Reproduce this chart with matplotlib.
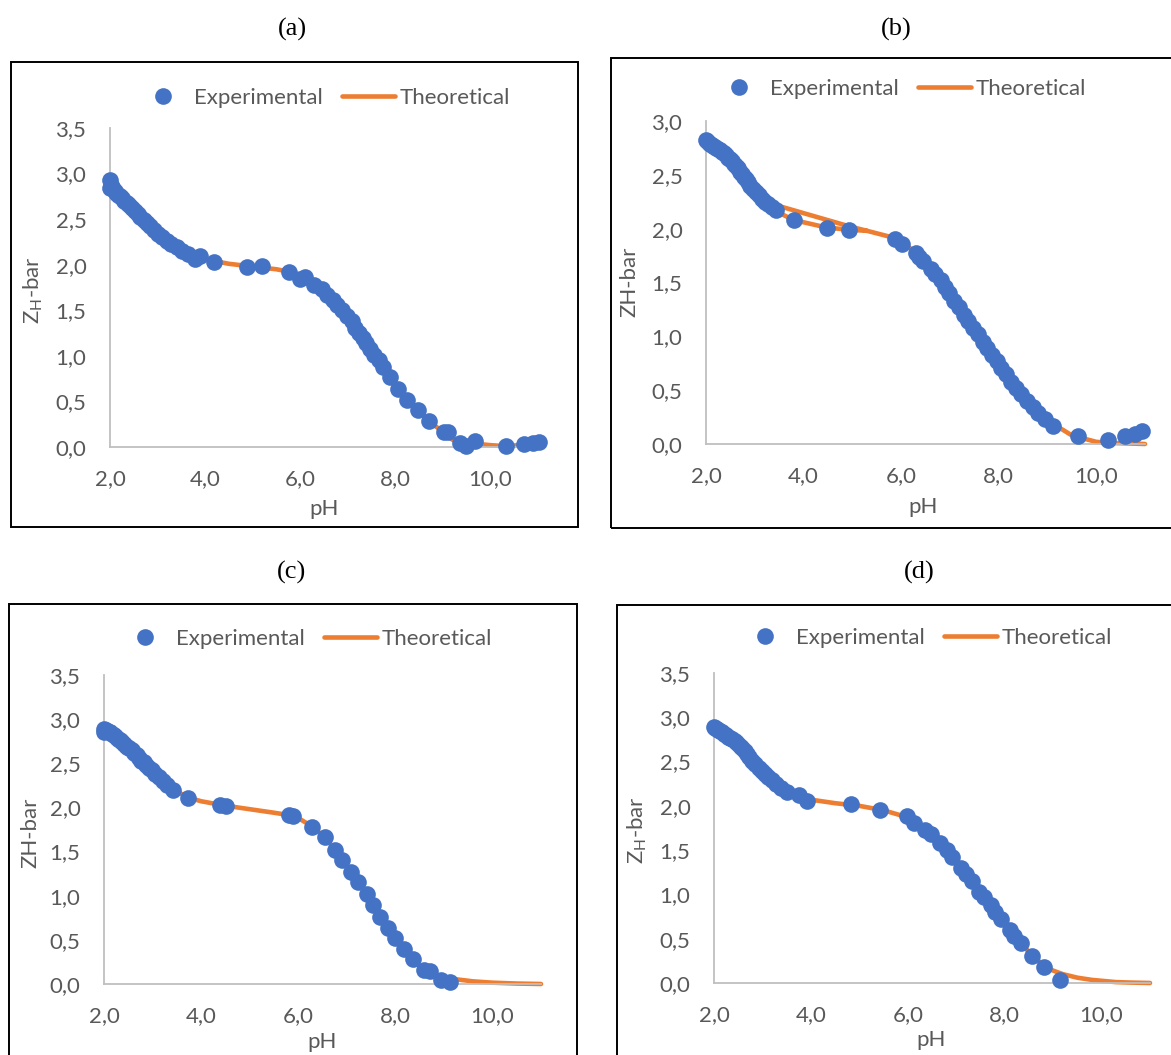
import numpy as np
import matplotlib.pyplot as plt
from matplotlib.patches import Rectangle
from matplotlib.ticker import FuncFormatter

plt.rcParams['font.family'] = ['Lato', 'DejaVu Sans']

# ---- panel (a) ----
ph_exp_a = [2.00, 2.00, 2.02, 2.04, 2.07, 2.10, 2.13, 2.17, 2.21, 2.25, 2.30, 2.35,
            2.40, 2.46, 2.52, 2.58, 2.64, 2.71, 2.78, 2.85, 2.93, 3.01, 3.10, 3.19,
            3.29, 3.40, 3.52, 3.65, 3.79, 3.90, 4.18, 4.88, 5.19, 5.77, 6.00, 6.09,
            6.29, 6.45, 6.56, 6.68, 6.78, 6.88, 6.98, 7.08, 7.16, 7.24, 7.32, 7.39,
            7.47, 7.55, 7.65, 7.74, 7.89, 8.05, 8.24, 8.48, 8.71, 9.02, 9.10, 9.37,
            9.49, 9.67, 10.33, 10.70, 10.90, 11.02]
zh_exp_a = [2.93, 2.84, 2.88, 2.85, 2.83, 2.81, 2.79, 2.77, 2.75, 2.73, 2.70, 2.68,
            2.65, 2.62, 2.59, 2.56, 2.52, 2.49, 2.46, 2.42, 2.38, 2.34, 2.30, 2.26,
            2.23, 2.19, 2.15, 2.12, 2.06, 2.10, 2.03, 1.98, 1.99, 1.92, 1.84, 1.87,
            1.78, 1.73, 1.67, 1.61, 1.56, 1.50, 1.44, 1.38, 1.31, 1.25, 1.20, 1.14,
            1.08, 1.01, 0.95, 0.88, 0.77, 0.64, 0.52, 0.41, 0.28, 0.17, 0.17, 0.04,
            0.01, 0.07, 0.01, 0.03, 0.04, 0.06]
ph_theo_a = [2.0, 2.5, 3.0, 3.5, 4.0, 4.5, 5.0, 5.5, 5.8, 6.0, 6.3, 6.6, 7.0, 7.5,
             8.0, 8.5, 8.8, 9.0, 9.2, 9.4, 9.6, 9.8, 10.0, 10.3, 10.6, 11.0]
zh_theo_a = [2.88, 2.60, 2.36, 2.16, 2.06, 2.01, 1.98, 1.95, 1.92, 1.87, 1.78, 1.65,
             1.43, 1.05, 0.67, 0.39, 0.25, 0.16, 0.08, 0.05, 0.04, 0.03, 0.02, 0.01,
             0.02, 0.03]

# ---- panel (b) ----
ph_exp_b = [2.00, 2.03, 2.06, 2.09, 2.12, 2.15, 2.18, 2.21, 2.25, 2.29, 2.33, 2.37,
            2.41, 2.45, 2.49, 2.53, 2.57, 2.61, 2.65, 2.69, 2.73, 2.77, 2.81, 2.86,
            2.91, 2.96, 3.02, 3.08, 3.14, 3.21, 3.28, 3.35, 3.44, 3.80, 4.48, 4.94,
            5.87, 6.01, 6.30, 6.36, 6.45, 6.61, 6.70, 6.82, 6.90, 6.99, 7.08, 7.18,
            7.28, 7.38, 7.47, 7.57, 7.67, 7.77, 7.87, 7.96, 8.05, 8.15, 8.25, 8.35,
            8.46, 8.58, 8.70, 8.81, 8.95, 9.12, 9.62, 10.24, 10.59, 10.79, 10.94]
zh_exp_b = [2.82, 2.81, 2.80, 2.79, 2.78, 2.77, 2.76, 2.75, 2.74, 2.73, 2.71, 2.70,
            2.68, 2.66, 2.65, 2.63, 2.60, 2.58, 2.56, 2.53, 2.51, 2.48, 2.46, 2.43,
            2.40, 2.37, 2.34, 2.31, 2.28, 2.25, 2.23, 2.20, 2.17, 2.08, 2.01, 1.99,
            1.90, 1.86, 1.77, 1.74, 1.70, 1.63, 1.58, 1.52, 1.46, 1.40, 1.33, 1.27,
            1.20, 1.14, 1.08, 1.02, 0.95, 0.89, 0.83, 0.77, 0.71, 0.65, 0.58, 0.52,
            0.46, 0.40, 0.34, 0.29, 0.23, 0.17, 0.07, 0.04, 0.07, 0.09, 0.12]
# the fitted curve doubles back between pH 3.4 and 5.3 (nan splits the two runs)
ph_theo_b = [2.0, 2.5, 3.0, 3.2, 3.42, 4.95, 5.3, 5.9, 6.3, 6.6, 7.0, 7.5, 8.0,
             8.5, 9.0, 9.5, 10.0, 10.3, 11.0, np.nan, 3.44, 3.80, 4.48, 4.94, 5.3]
zh_theo_b = [2.83, 2.63, 2.35, 2.26, 2.22, 2.02, 1.98, 1.91, 1.78, 1.64, 1.40, 1.06,
             0.74, 0.45, 0.22, 0.08, 0.02, 0.01, 0.00, np.nan, 2.16, 2.08, 2.01,
             1.99, 1.98]

# ---- panel (c) ----
ph_exp_c = [2.00, 2.01, 2.04, 2.07, 2.10, 2.13, 2.16, 2.20, 2.24, 2.28, 2.32, 2.36,
            2.40, 2.44, 2.48, 2.52, 2.57, 2.62, 2.67, 2.72, 2.77, 2.82, 2.87, 2.93,
            2.99, 3.06, 3.13, 3.21, 3.30, 3.42, 3.73, 4.38, 4.51, 5.82, 5.90, 6.29,
            6.55, 6.75, 6.91, 7.08, 7.24, 7.41, 7.54, 7.69, 7.85, 8.00, 8.17, 8.36,
            8.59, 8.71, 8.94, 9.13]
zh_exp_c = [2.86, 2.89, 2.88, 2.87, 2.86, 2.85, 2.83, 2.82, 2.80, 2.78, 2.76, 2.75,
            2.73, 2.71, 2.69, 2.67, 2.65, 2.62, 2.59, 2.56, 2.53, 2.51, 2.48, 2.45,
            2.42, 2.38, 2.34, 2.30, 2.25, 2.20, 2.11, 2.03, 2.02, 1.91, 1.90, 1.78,
            1.66, 1.52, 1.40, 1.27, 1.15, 1.02, 0.89, 0.76, 0.63, 0.52, 0.40, 0.28,
            0.16, 0.15, 0.04, 0.02]
ph_theo_c = [2.0, 2.5, 3.0, 3.5, 3.75, 4.0, 4.5, 5.0, 5.5, 5.85, 6.0, 6.3, 6.6, 7.0,
             7.5, 8.0, 8.5, 8.8, 9.0, 9.3, 9.6, 10.0, 10.5, 11.0]
zh_theo_c = [2.88, 2.68, 2.42, 2.18, 2.11, 2.07, 2.02, 1.98, 1.94, 1.91, 1.88, 1.78,
             1.63, 1.34, 0.95, 0.53, 0.20, 0.11, 0.07, 0.05, 0.03, 0.015, 0.005, 0.0]

# ---- panel (d) ----
ph_exp_d = [2.00, 2.03, 2.06, 2.09, 2.12, 2.16, 2.20, 2.24, 2.28, 2.33, 2.38, 2.43,
            2.48, 2.53, 2.58, 2.63, 2.68, 2.73, 2.79, 2.85, 2.92, 2.99, 3.06, 3.12,
            3.20, 3.27, 3.38, 3.50, 3.75, 3.93, 4.82, 5.43, 5.99, 6.13, 6.35, 6.47,
            6.67, 6.80, 6.92, 7.10, 7.20, 7.32, 7.48, 7.58, 7.71, 7.80, 7.92, 8.10,
            8.20, 8.33, 8.56, 8.82, 9.15]
zh_exp_d = [2.89, 2.88, 2.87, 2.86, 2.85, 2.83, 2.81, 2.80, 2.78, 2.77, 2.75, 2.73,
            2.71, 2.68, 2.65, 2.62, 2.58, 2.55, 2.51, 2.47, 2.43, 2.39, 2.36, 2.33,
            2.29, 2.25, 2.20, 2.16, 2.12, 2.06, 2.02, 1.95, 1.88, 1.81, 1.73, 1.68,
            1.58, 1.50, 1.42, 1.30, 1.23, 1.15, 1.03, 0.97, 0.88, 0.80, 0.72, 0.60,
            0.53, 0.45, 0.30, 0.18, 0.03]
ph_theo_d = [2.0, 2.5, 3.0, 3.5, 4.0, 4.5, 5.0, 5.5, 6.0, 6.3, 6.6, 7.0, 7.5, 8.0,
             8.5, 8.8, 9.0, 9.2, 9.5, 9.8, 10.0, 10.3, 10.6, 11.0]
zh_theo_d = [2.89, 2.70, 2.40, 2.17, 2.07, 2.03, 2.00, 1.95, 1.87, 1.77, 1.62, 1.37,
             1.01, 0.66, 0.35, 0.20, 0.14, 0.10, 0.06, 0.035, 0.025, 0.01, 0.005, 0.0]

x_ticks = [2, 4, 6, 8, 10]
ylabel_sub = r'Z$_{\mathregular{H}}$-bar'
ylabel_plain = 'ZH-bar'

BLUE = '#4472C4'
ORANGE = '#ED7D31'
GREY_TXT = '#595959'
GREY_AX = '#BFBFBF'
FS = 16

W, H = 1171, 1055
fig = plt.figure(figsize=(W / 100, H / 100), dpi=100)


def fx(x):
    return x / W


def fy(y):
    return 1 - y / H


comma = FuncFormatter(lambda v, p: ('%.1f' % v).replace('.', ','))

# pixel layout of each panel: frame box, plot area, legend anchor, labels
panels = [
    dict(tag='(a)', title=(292, 29), box=(11, 62, 578, 527), area=(110, 128, 538, 447),
         ymax=3.5, leg=(136, 98), ylab=ylabel_sub, ylpos=(33, 290), xlpos=(324, 509),
         data=(ph_exp_a, zh_exp_a, ph_theo_a, zh_theo_a)),
    dict(tag='(b)', title=(896, 29), box=(611, 58, 1176, 528), area=(706, 121, 1145, 444),
         ymax=3.0, leg=(712, 89), ylab=ylabel_plain, ylpos=(629, 282), xlpos=(923, 507),
         data=(ph_exp_b, zh_exp_b, ph_theo_b, zh_theo_b)),
    dict(tag='(c)', title=(292, 572), box=(9, 604, 577, 1062), area=(104, 675, 541, 984),
         ymax=3.5, leg=(118, 639), ylab=ylabel_plain, ylpos=(30, 833), xlpos=(322, 1042),
         data=(ph_exp_c, zh_exp_c, ph_theo_c, zh_theo_c)),
    dict(tag='(d)', title=(919, 572), box=(617, 605, 1176, 1062), area=(714, 673, 1150, 983),
         ymax=3.5, leg=(738, 638), ylab=ylabel_sub, ylpos=(637, 830), xlpos=(931, 1040),
         data=(ph_exp_d, zh_exp_d, ph_theo_d, zh_theo_d)),
]

for p in panels:
    x0, y0, x1, y1 = p['box']
    fig.add_artist(Rectangle((fx(x0), fy(y1)), fx(x1 - x0), (y1 - y0) / H,
                             transform=fig.transFigure, fill=False,
                             edgecolor='black', linewidth=1.4))
    fig.text(fx(p['title'][0]), fy(p['title'][1]), p['tag'], ha='center', va='center',
             fontsize=19, family='Liberation Serif', color='black')

    a0, b0, a1, b1 = p['area']
    ax = fig.add_axes([fx(a0), fy(b1), fx(a1 - a0), (b1 - b0) / H])
    ph_e, zh_e, ph_t, zh_t = p['data']
    ax.plot(ph_t, zh_t, color=ORANGE, lw=3.3, solid_capstyle='round',
            label='Theoretical', zorder=2, clip_on=False)
    ax.plot(ph_e, zh_e, 'o', color=BLUE, markersize=12, markeredgewidth=0,
            label='Experimental', zorder=3, clip_on=False)

    ax.set_xlim(2, 11)
    ax.set_ylim(0, p['ymax'])
    ax.set_xticks(x_ticks)
    ax.set_yticks(np.arange(0, p['ymax'] + 0.01, 0.5))
    ax.xaxis.set_major_formatter(comma)
    ax.yaxis.set_major_formatter(comma)
    ax.tick_params(length=0, labelsize=FS, colors=GREY_TXT)
    ax.tick_params(axis='y', pad=17)
    ax.tick_params(axis='x', pad=16)
    for s in ('top', 'right'):
        ax.spines[s].set_visible(False)
    for s in ('left', 'bottom'):
        ax.spines[s].set_color(GREY_AX)
        ax.spines[s].set_linewidth(1.3)
    ax.patch.set_alpha(0)

    ax.set_ylabel(p['ylab'], fontsize=FS, color=GREY_TXT)
    ax.yaxis.set_label_coords((p['ylpos'][0] - a0) / (a1 - a0),
                              (b1 - p['ylpos'][1]) / (b1 - b0))
    ax.set_xlabel('pH', fontsize=FS, color=GREY_TXT)
    ax.xaxis.set_label_coords((p['xlpos'][0] - a0) / (a1 - a0),
                              (b1 - p['xlpos'][1]) / (b1 - b0))
    ax.xaxis.label.set_va('center')
    ax.yaxis.label.set_va('center')

    h, l = ax.get_legend_handles_labels()
    ax.legend(h[::-1], l[::-1], ncol=2, frameon=False, fontsize=FS,
              loc='center left', bbox_to_anchor=(fx(p['leg'][0]), fy(p['leg'][1])),
              bbox_transform=fig.transFigure, borderpad=0, borderaxespad=0,
              handlelength=2.4, handletextpad=0.22, columnspacing=0.85,
              labelcolor=GREY_TXT)

fig.savefig('out.png', dpi=100, facecolor='white')
